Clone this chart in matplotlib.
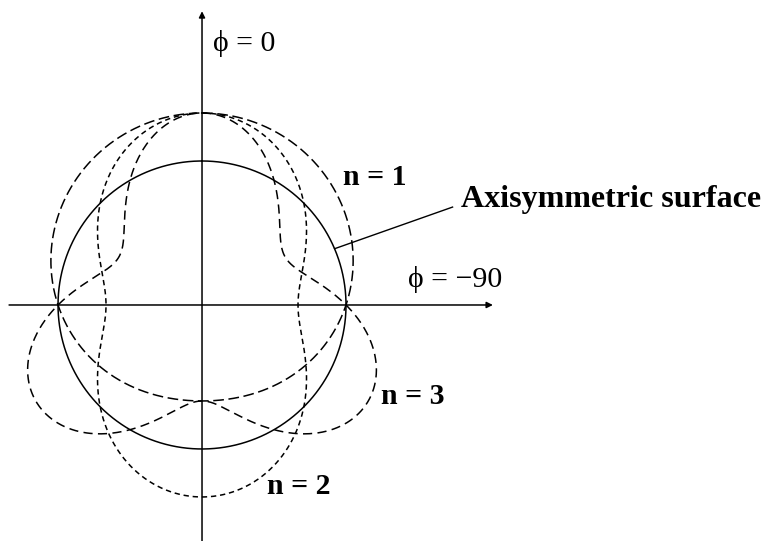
"""
Surface perturbation modes about an axisymmetric (spherical) surface
"""

import numpy as np
import matplotlib.pyplot as plt

plt.rcParams['font.family'] = ['Liberation Serif', 'DejaVu Serif']

# Unperturbed radius and perturbation amplitude (fraction of radius)
radius = 1.0
amplitude = 1.0 / 3.0

# Mode numbers, their line dashes and label positions (x, y in radius units)
modes = [1, 2, 3]
mode_dashes = [(7, 3), (3.5, 2.5), (6, 3.5)]
mode_labels = ["n = 1", "n = 2", "n = 3"]
label_pos = [(0.98, 0.83), (0.45, -1.31), (1.24, -0.69)]

# Angle labels on the axes
phi_labels = ["\u03d5 = 0", "\u03d5 = \u221290"]
phi_pos = [(0.075, 1.765), (1.43, 0.125)]

fig = plt.figure(figsize=(7.62, 5.41), dpi=100)
ax = fig.add_axes([0, 0, 1, 1])
ax.set_xlim(-1.403, 3.889)
ax.set_ylim(-1.639, 2.118)
ax.set_aspect('equal')
ax.axis('off')

# polar angle measured from the vertical (phi = 0) axis
theta = np.linspace(0, 2 * np.pi, 1000)

# axisymmetric surface
ax.plot(radius * np.sin(theta), radius * np.cos(theta), color='k', lw=1.1)

# perturbed surfaces r = R (1 + eps cos(n theta))
for n, dash in zip(modes, mode_dashes):
    r = radius * (1 + amplitude * np.cos(n * theta))
    ax.plot(r * np.sin(theta), r * np.cos(theta), color='k', lw=1.1,
            dashes=dash)

# coordinate axes with arrow heads
arrow = dict(arrowstyle='-|>', lw=1.1, color='k', mutation_scale=9,
             shrinkA=0, shrinkB=0)
ax.annotate('', xy=(2.02, 0), xytext=(-1.34, 0), arrowprops=arrow)
ax.annotate('', xy=(0, 2.04), xytext=(0, -1.64), arrowprops=arrow)

for txt, (x, y) in zip(phi_labels, phi_pos):
    ax.text(x, y, txt, fontsize=21.5, va='baseline', ha='left')

for txt, (x, y) in zip(mode_labels, label_pos):
    ax.text(x, y, txt, fontsize=21.5, fontweight='bold', va='baseline',
            ha='left')

# leader line to the axisymmetric surface label
a = np.radians(67)
ax.plot([radius * np.sin(a), 1.74], [radius * np.cos(a), 0.68],
        color='k', lw=1.0)
ax.text(1.80, 0.68, "Axisymmetric surface", fontsize=23, fontweight='bold',
        va='baseline', ha='left')

fig.savefig("out.png", dpi=100)
